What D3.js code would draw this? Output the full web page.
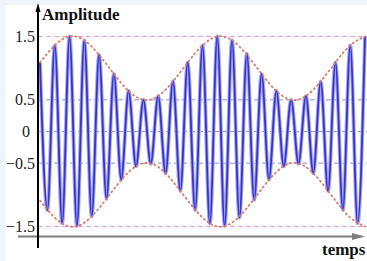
<!DOCTYPE html>
<html>
<head>
<meta charset="utf-8">
<script src="https://cdn.jsdelivr.net/npm/d3@7"></script>
<style>
  html, body { margin: 0; padding: 0; background: #edf5fb; }
  svg { display: block; }
</style>
</head>
<body>
<div id="chart"></div>
<script>
// ---------------------------------------------------------------------------
// DATA
// ---------------------------------------------------------------------------
const yTicks = [-1.5, -0.5, 0, 0.5, 1.5];
const yTickLabels = ["\u22121.5", "\u22120.5", "0", "0.5", "1.5"];
const pinkLines = [1.5, -1.5];
const blueLines = [0.5, 0, -0.5];

// signal extrema, one every half carrier period
const signalT = [0, 0.5, 1, 1.5, 2, 2.5, 3, 3.5, 4, 4.5, 5, 5.5, 6, 6.5, 7, 7.5,
  8, 8.5, 9, 9.5, 10, 10.5, 11, 11.5, 12, 12.5, 13, 13.5, 14, 14.5, 15, 15.5,
  16, 16.5, 17, 17.5, 18, 18.5, 19, 19.5, 20, 20.5, 21, 21.5, 22];
const signalV = [1.09, -1.24, 1.36, -1.45, 1.50, -1.49, 1.44, -1.34, 1.21, -1.06,
  0.91, -0.76, 0.64, -0.55, 0.50, -0.51, 0.56, -0.66, 0.79, -0.94,
  1.09, -1.24, 1.36, -1.45, 1.50, -1.49, 1.44, -1.36, 1.23, -1.08,
  0.91, -0.76, 0.64, -0.55, 0.50, -0.51, 0.56, -0.66, 0.79, -0.94,
  1.09, -1.24, 1.36, -1.45, 1.50];

// upper envelope (lower one is its mirror)
const envT = [0, 1, 2, 3, 4, 5, 6, 7, 8, 9, 10, 11, 12, 13, 14, 15, 16, 17, 18, 19, 20, 21, 22];
const envV = [1.09, 1.36, 1.50, 1.44, 1.21, 0.91, 0.64, 0.50, 0.56, 0.79,
  1.09, 1.36, 1.50, 1.44, 1.21, 0.91, 0.64, 0.50, 0.56, 0.79, 1.09, 1.36, 1.50];

// ---------------------------------------------------------------------------
// SVG + SCALES
// ---------------------------------------------------------------------------
const W = 367, H = 261;

const svg = d3.select('#chart')
  .append('svg')
  .attr('width', W)
  .attr('height', H);

// white panel inside the light blue frame
svg.append('rect')
  .attr('x', 5).attr('y', 5)
  .attr('width', W - 5).attr('height', H - 5)
  .attr('fill', '#ffffff');

const x = d3.scaleLinear().domain([0, 22]).range([40, 365]);
const y = d3.scaleLinear().domain([-1.5, 1.5]).range([226.5, 36.5]);

const axisX = 38;       // vertical axis position
const axisY = 236.5;    // horizontal axis position

// ---------------------------------------------------------------------------
// GRID LINES
// ---------------------------------------------------------------------------
svg.selectAll('.pink-line')
  .data(pinkLines)
  .join('line')
  .attr('class', 'pink-line')
  .attr('x1', axisX).attr('x2', W)
  .attr('y1', d => y(d)).attr('y2', d => y(d))
  .attr('stroke', '#e6a3d2')
  .attr('stroke-width', 1.2)
  .attr('stroke-dasharray', '5,3');

svg.selectAll('.blue-line')
  .data(blueLines)
  .join('line')
  .attr('class', 'blue-line')
  .attr('x1', axisX).attr('x2', W)
  .attr('y1', d => y(d)).attr('y2', d => y(d))
  .attr('stroke', '#8a93c4')
  .attr('stroke-width', 1)
  .attr('stroke-dasharray', '5,3');

// ---------------------------------------------------------------------------
// SIGNAL
// ---------------------------------------------------------------------------
const signal = signalT.map((t, i) => ({ t: t, v: signalV[i] }));

const line = d3.line()
  .x(d => x(d.t))
  .y(d => y(d.v))
  .curve(d3.curveMonotoneX);

// soft halo then core
svg.append('path')
  .datum(signal)
  .attr('fill', 'none')
  .attr('stroke', '#a7a7ef')
  .attr('stroke-width', 3.8)
  .attr('d', line);

svg.append('path')
  .datum(signal)
  .attr('fill', 'none')
  .attr('stroke', '#3434cf')
  .attr('stroke-width', 1.8)
  .attr('d', line);

// ---------------------------------------------------------------------------
// ENVELOPE
// ---------------------------------------------------------------------------
const env = envT.map((t, i) => ({ t: t, v: envV[i] }));

const envLine = d3.line()
  .x(d => x(d.t))
  .y(d => y(d.v))
  .curve(d3.curveNatural);

[1, -1].forEach(sign => {
  svg.append('path')
    .datum(env.map(d => ({ t: d.t, v: sign * d.v })))
    .attr('fill', 'none')
    .attr('stroke', '#dd7a66')
    .attr('stroke-width', 1.8)
    .attr('stroke-linecap', 'round')
    .attr('stroke-dasharray', '1.2,3.4')
    .attr('d', envLine);
});

// ---------------------------------------------------------------------------
// AXES
// ---------------------------------------------------------------------------
// horizontal axis (grey, with arrow)
svg.append('line')
  .attr('x1', 18).attr('x2', 356)
  .attr('y1', axisY).attr('y2', axisY)
  .attr('stroke', '#7d7d7d')
  .attr('stroke-width', 2);

svg.append('path')
  .attr('d', `M352,${axisY - 3.5} L365,${axisY} L352,${axisY + 3.5} Z`)
  .attr('fill', '#7d7d7d');

// vertical axis (black, with arrow)
svg.append('line')
  .attr('x1', axisX).attr('x2', axisX)
  .attr('y1', 9).attr('y2', 248)
  .attr('stroke', '#000')
  .attr('stroke-width', 2);

svg.append('path')
  .attr('d', `M${axisX - 2.5},12 L${axisX},3 L${axisX + 2.5},12 Z`)
  .attr('fill', '#000');

// tick labels
const yAxis = d3.axisLeft(y)
  .tickValues(yTicks)
  .tickSize(0)
  .tickPadding(3)
  .tickFormat((d, i) => yTickLabels[i]);

const gy = svg.append('g')
  .attr('transform', `translate(${axisX},0)`)
  .call(yAxis);

gy.select('.domain').remove();
gy.selectAll('text')
  .attr('dx', d => d === 0 ? -5 : 0)
  .style('font-family', '"Liberation Serif", "DejaVu Serif", serif')
  .style('font-size', '16px')
  .attr('fill', '#222');

// axis titles
svg.append('text')
  .attr('x', 42)
  .attr('y', 20)
  .style('font-family', '"Liberation Serif", serif')
  .style('font-size', '17px')
  .style('font-weight', 'bold')
  .attr('fill', '#111')
  .text('Amplitude');

svg.append('text')
  .attr('x', 322)
  .attr('y', 255)
  .style('font-family', '"Liberation Serif", serif')
  .style('font-size', '17px')
  .style('font-weight', 'bold')
  .attr('fill', '#111')
  .text('temps');
</script>
</body>
</html>
